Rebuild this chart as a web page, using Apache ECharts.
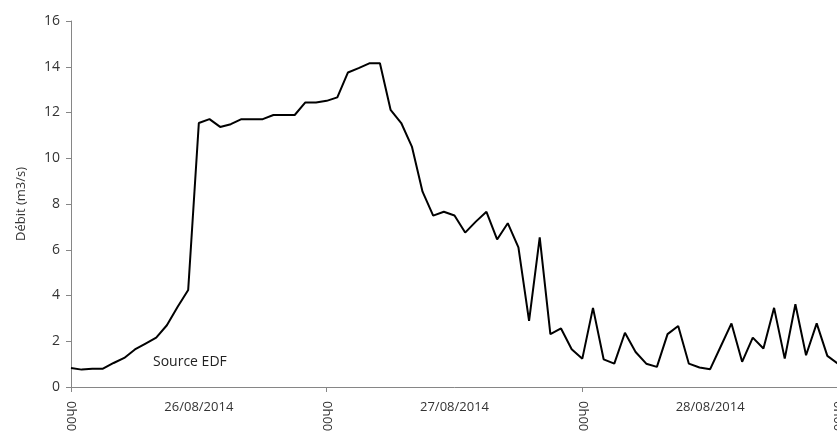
<!DOCTYPE html>
<html><head><meta charset="utf-8">
<script src="https://cdn.jsdelivr.net/npm/echarts@6/dist/echarts.min.js"></script>
<style>html,body{margin:0;padding:0;background:#fff}#c{width:837px;height:432px}</style>
</head><body><div id="c"></div>
<script>
// Hourly flow values (m3/s), hour 0 to 72
const hours = [0,1,2,3,4,5,6,7,8,9,10,11,12,13,14,15,16,17,18,19,20,21,22,23,24,25,26,27,28,29,30,31,32,33,34,35,36,37,38,39,40,41,42,43,44,45,46,47,48,49,50,51,52,53,54,55,56,57,58,59,60,61,62,63,64,65,66,67,68,69,70,71,72];
const debit = [0.83,0.76,0.8,0.8,1.05,1.27,1.64,1.9,2.16,2.7,3.5,4.24,11.54,11.71,11.37,11.49,11.71,11.71,11.71,11.89,11.89,11.89,12.44,12.44,12.51,12.66,13.75,13.94,14.15,14.15,12.12,11.54,10.51,8.54,7.49,7.66,7.5,6.75,7.23,7.66,6.45,7.16,6.1,2.89,6.54,2.31,2.56,1.65,1.24,3.46,1.21,1.02,2.37,1.53,1.02,0.88,2.31,2.67,1.02,0.85,0.78,1.78,2.78,1.1,2.16,1.68,3.46,1.24,3.62,1.39,2.78,1.36,1.02];
const hourLabels = ['0h00','0h00','0h00','0h00'];
const dateLabels = ['26/08/2014','27/08/2014','28/08/2014'];
const yTicks = [0,2,4,6,8,10,12,14,16];

const chart = echarts.init(document.getElementById('c'));
const font = 'Open Sans';
chart.setOption({
  animation: false,
  grid: {left: 71, right: -1, top: 21, bottom: 45, outerBoundsMode: 'none', containLabel: false},
  xAxis: [{
    type: 'value', min: 0, max: 72, interval: 24,
    axisLine: {lineStyle: {color: '#868686', width: 1}},
    axisTick: {show: true, length: 5, lineStyle: {color: '#868686'}},
    splitLine: {show: false},
    axisLabel: {rotate: -90, color: '#333', fontFamily: font, fontSize: 13, margin: 14,
      formatter: v => hourLabels[Math.round(v/24)]}
  }, {
    type: 'value', min: 0, max: 72, interval: 12, position: 'bottom',
    axisLine: {show: false}, axisTick: {show: false}, splitLine: {show: false},
    axisLabel: {color: '#333', fontFamily: font, fontSize: 13, margin: 14,
      formatter: v => (Math.round(v) % 24 === 12) ? dateLabels[Math.floor(v/24)] : ''}
  }],
  yAxis: {
    type: 'value', min: yTicks[0], max: yTicks[yTicks.length-1], interval: 2,
    name: 'Débit (m3/s)', nameLocation: 'middle', nameGap: 43,
    nameTextStyle: {color: '#333', fontFamily: font, fontSize: 13},
    axisLine: {show: true, lineStyle: {color: '#868686', width: 1}},
    axisTick: {show: true, length: 5, lineStyle: {color: '#868686'}},
    splitLine: {show: false},
    axisLabel: {color: '#333', fontFamily: font, fontSize: 14, margin: 11}
  },
  graphic: [{type: 'text', left: 153, top: 355,
    style: {text: 'Source EDF', fill: '#222', font: '14px "Open Sans"'}}],
  series: [{
    type: 'line', xAxisIndex: 0,
    data: hours.map((h, i) => [h, debit[i]]),
    symbol: 'none', lineStyle: {color: '#000', width: 2}
  }]
});
</script></body></html>
